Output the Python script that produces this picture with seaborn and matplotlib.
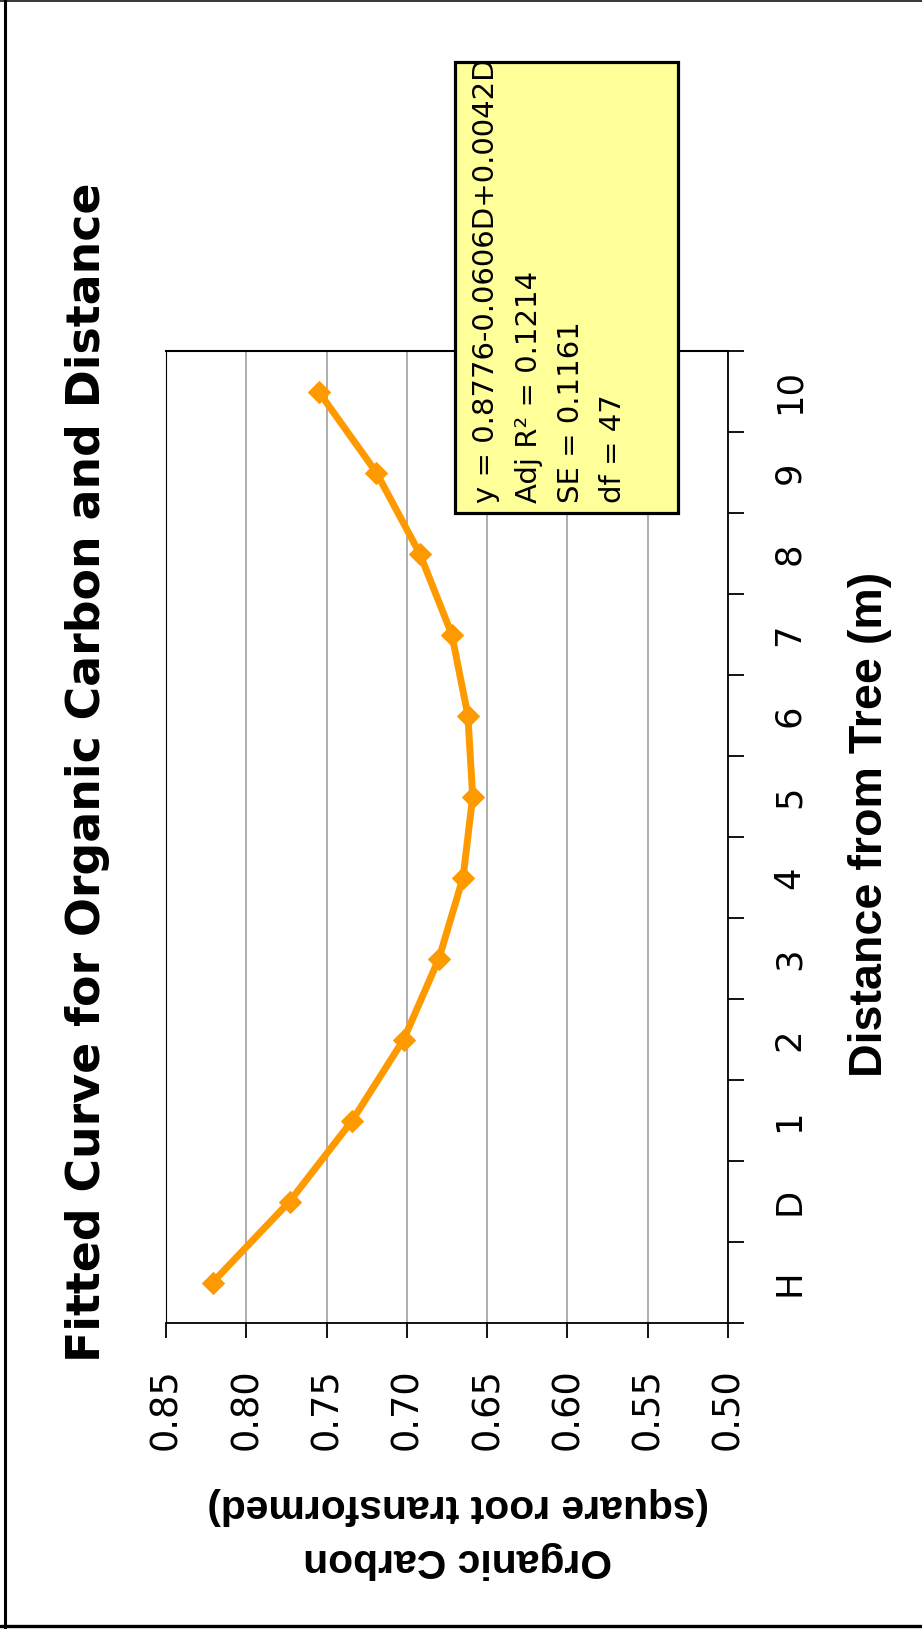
import numpy as np
import pandas as pd
import matplotlib
matplotlib.use("Agg")
import matplotlib.pyplot as plt
import seaborn as sns
from matplotlib import font_manager as fm
from matplotlib.patches import Rectangle
from matplotlib.lines import Line2D

# ---- data -------------------------------------------------------------
categories = ["H", "D", "1", "2", "3", "4", "5", "6", "7", "8", "9", "10"]
carbon = [0.821, 0.773, 0.734, 0.702, 0.680, 0.665, 0.659, 0.662, 0.672, 0.692, 0.719, 0.755]
value_ticks = [0.85, 0.80, 0.75, 0.70, 0.65, 0.60, 0.55, 0.50]
value_tick_labels = ["0.85", "0.80", "0.75", "0.70", "0.65", "0.60", "0.55", "0.50"]
equation_lines = ["y = 0.8776-0.0606D+0.0042D\u00b2", "Adj R\u00b2 = 0.1214", "SE = 0.1161", "df = 47"]
title = "Fitted Curve for Organic Carbon and Distance"
value_title = ["Organic Carbon", "(square root transformed)"]
category_title = "Distance from Tree (m)"

# ---- page setup ---------------------------------------------------------
W, H = 922, 1629
sns.set_theme(style="white")
plt.rcParams["font.family"] = ["DejaVu Sans"]
plt.rcParams["text.color"] = "black"

names = {f.name for f in fm.fontManager.ttflist}
if "Liberation Sans Narrow" in names:
    narrow = dict(family="Liberation Sans Narrow", fontweight="bold")
elif "Liberation Sans" in names:
    narrow = dict(family="Liberation Sans", fontweight="bold")
else:
    narrow = dict(family="DejaVu Sans", fontweight="bold")


def px_x(x):
    return x / W


def px_y(y):
    return 1 - y / H


fig = plt.figure(figsize=(W / 100, H / 100), dpi=100)
fig.patch.set_facecolor("white")

left, right, top, bottom = 166, 728, 351, 1323
ax = fig.add_axes([px_x(left), px_y(bottom), (right - left) / W, (bottom - top) / H])
ax.set_facecolor("white")

# the fitted curve, drawn with distance running up the page
df = pd.DataFrame({"position": np.arange(len(categories)), "carbon": carbon})
sns.lineplot(data=df, x="carbon", y="position", orient="y", sort=False,
             errorbar=None, color="#FF9900", lw=5, marker="D", ms=11,
             mec="#FF9900", mfc="#FF9900", ax=ax)

ax.set_xlabel("")
ax.set_ylabel("")
ax.set_xlim(value_ticks[0], value_ticks[-1])
ax.set_ylim(-0.5, len(categories) - 0.5)

# value axis (bottom)
ax.set_xticks(value_ticks)
ax.set_xticklabels(value_tick_labels, rotation=90, fontsize=26.5, color="black")
ax.tick_params(axis="x", which="major", direction="out", bottom=True, length=10.8,
               width=1.3, color="black", pad=21.5)
ax.xaxis.grid(True, color="#999999", lw=1.1)
ax.yaxis.grid(False)

# category axis (right): boundary ticks, centred labels
ax.yaxis.tick_right()
ax.set_yticks(np.arange(-0.5, len(categories) + 0.5, 1.0))
ax.set_yticklabels([])
ax.set_yticks(np.arange(len(categories)), minor=True)
ax.set_yticklabels(categories, minor=True, rotation=90, fontsize=25.5, va="center", color="black")
ax.tick_params(axis="y", which="major", direction="out", right=True, left=False,
               length=11.5, width=1.3, color="black")
ax.tick_params(axis="y", which="minor", right=True, left=False, length=0, pad=32)

for side, lw in {"left": 0.8, "top": 1.5, "right": 1.3, "bottom": 1.3}.items():
    ax.spines[side].set_visible(True)
    ax.spines[side].set_color("black")
    ax.spines[side].set_linewidth(lw)

# ---- titles ---------------------------------------------------------------
renderer = fig.canvas.get_renderer()


def fit_length(txt, target, along="y"):
    fig.canvas.draw()
    bb = txt.get_window_extent(renderer)
    length = bb.height if along == "y" else bb.width
    txt.set_fontsize(txt.get_fontsize() * target / length)


t_title = fig.text(px_x(88), px_y(772), title, rotation=90, ha="center", va="center",
                   fontsize=34, fontweight="bold", color="black")
fit_length(t_title, 1181)

t_cat = fig.text(px_x(870), px_y(824), category_title, rotation=90, ha="center",
                 va="center", fontsize=30, color="black", **narrow)
fit_length(t_cat, 506)

t_val1 = fig.text(px_x(458), px_y(1506), value_title[1], rotation=180, ha="center",
                  va="center", fontsize=30, color="black", **narrow)
fit_length(t_val1, 503, along="x")
t_val0 = fig.text(px_x(458), px_y(1560), value_title[0], rotation=180, ha="center",
                  va="center", fontsize=t_val1.get_fontsize(), color="black", **narrow)

# ---- equation box -----------------------------------------------------------
bx0, by0, bx1, by1 = 455, 62, 678, 513
box = Rectangle((px_x(bx0), px_y(by1)), (bx1 - bx0) / W, (by1 - by0) / H,
                transform=fig.transFigure, facecolor="#FFFF99", edgecolor="black",
                lw=2.3, zorder=5)
fig.add_artist(box)
for line, xc in zip(equation_lines, [486, 529, 571, 613]):
    t = fig.text(px_x(xc), px_y(503), line, rotation=90, ha="center", va="bottom",
                 fontsize=21, color="black", zorder=6)
    t.set_clip_path(box)

# ---- page frame ------------------------------------------------------------
fig.add_artist(Line2D([px_x(4.5), px_x(4.5)], [0, 1], transform=fig.transFigure,
                      color="black", lw=2.2))
fig.add_artist(Line2D([0, 1], [px_y(0.7), px_y(0.7)], transform=fig.transFigure,
                      color="black", lw=1.1))
fig.add_artist(Line2D([0, 1], [px_y(1625.5), px_y(1625.5)], transform=fig.transFigure,
                      color="black", lw=2.4))

fig.savefig("out.png", dpi=100, facecolor="white")
